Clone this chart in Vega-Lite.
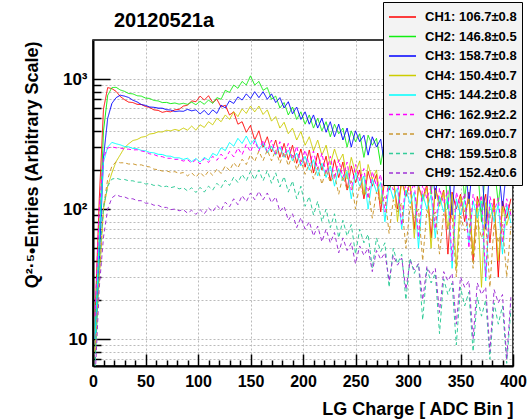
{
  "$schema": "https://vega.github.io/schema/vega-lite/v6.json",
  "autosize": {"type": "none"},
  "padding": {"left": 93, "top": 40, "right": 14, "bottom": 53},
  "width": 420,
  "height": 326,
  "background": "white",
  "view": {"stroke": "#000", "strokeWidth": 1.5},
  "title": {"text": "20120521a", "anchor": "start", "frame": "group", "dx": 21, "offset": -45, "baseline": "alphabetic", "fontSize": 20, "font": "Liberation Sans", "fontWeight": "bold", "color": "#000"},
  "data": {"values": [
    {"x":2,"CH1":15,"CH2":12,"CH3":10,"CH4":8,"CH5":10,"CH6":15,"CH7":8,"CH8":6,"CH9":5},
    {"x":6,"CH1":120,"CH2":60,"CH3":40,"CH4":30,"CH5":60,"CH6":100,"CH7":30,"CH8":40,"CH9":25},
    {"x":10,"CH1":590,"CH2":400,"CH3":250,"CH4":100,"CH5":230,"CH6":250,"CH7":104,"CH8":104,"CH9":61},
    {"x":14,"CH1":860,"CH2":750,"CH3":500,"CH4":150,"CH5":300,"CH6":295,"CH7":170,"CH8":150,"CH9":100},
    {"x":18,"CH1":845,"CH2":860,"CH3":650,"CH4":190,"CH5":326,"CH6":301,"CH7":214,"CH8":170,"CH9":122},
    {"x":22,"CH1":805,"CH2":865,"CH3":720,"CH4":232,"CH5":318,"CH6":296,"CH7":231,"CH8":173,"CH9":129},
    {"x":26,"CH1":735,"CH2":825,"CH3":752,"CH4":262,"CH5":312,"CH6":295,"CH7":227,"CH8":169,"CH9":125},
    {"x":30,"CH1":695,"CH2":805,"CH3":740,"CH4":297,"CH5":303,"CH6":289,"CH7":227,"CH8":169,"CH9":124},
    {"x":34,"CH1":665,"CH2":775,"CH3":722,"CH4":318,"CH5":301,"CH6":289,"CH7":222,"CH8":165,"CH9":120},
    {"x":38,"CH1":660,"CH2":770,"CH3":688,"CH4":337,"CH5":293,"CH6":285,"CH7":223,"CH8":165,"CH9":120},
    {"x":42,"CH1":640,"CH2":745,"CH3":668,"CH4":343,"CH5":291,"CH6":286,"CH7":218,"CH8":161,"CH9":116},
    {"x":46,"CH1":638,"CH2":740,"CH3":638,"CH4":357,"CH5":283,"CH6":280,"CH7":219,"CH8":161,"CH9":116},
    {"x":50,"CH1":615,"CH2":715,"CH3":628,"CH4":362,"CH5":281,"CH6":276,"CH7":213,"CH8":156,"CH9":111},
    {"x":54,"CH1":605,"CH2":710,"CH3":610,"CH4":378,"CH5":273,"CH6":266,"CH7":211,"CH8":157,"CH9":111},
    {"x":58,"CH1":580,"CH2":685,"CH3":607,"CH4":382,"CH5":271,"CH6":263,"CH7":203,"CH8":152,"CH9":107},
    {"x":62,"CH1":575,"CH2":680,"CH3":598,"CH4":393,"CH5":264,"CH6":255,"CH7":201,"CH8":153,"CH9":107},
    {"x":66,"CH1":555,"CH2":660,"CH3":597,"CH4":392,"CH5":263,"CH6":253,"CH7":196,"CH8":148,"CH9":103},
    {"x":70,"CH1":565,"CH2":662,"CH3":582,"CH4":404,"CH5":256,"CH6":246,"CH7":197,"CH8":150,"CH9":103},
    {"x":74,"CH1":560,"CH2":648,"CH3":578,"CH4":400,"CH5":255,"CH6":246,"CH7":192,"CH8":146,"CH9":99},
    {"x":78,"CH1":580,"CH2":655,"CH3":562,"CH4":410,"CH5":248,"CH6":241,"CH7":194,"CH8":149,"CH9":100},
    {"x":82,"CH1":585,"CH2":642,"CH3":568,"CH4":402,"CH5":248,"CH6":242,"CH7":188,"CH8":143,"CH9":97},
    {"x":86,"CH1":620,"CH2":652,"CH3":565,"CH4":420,"CH5":241,"CH6":234,"CH7":191,"CH8":146,"CH9":99},
    {"x":90,"CH1":630,"CH2":640,"CH3":585,"CH4":405,"CH5":246,"CH6":240,"CH7":180,"CH8":138,"CH9":93},
    {"x":94,"CH1":680,"CH2":665,"CH3":570,"CH4":435,"CH5":232,"CH6":226,"CH7":190,"CH8":146,"CH9":98},
    {"x":98,"CH1":670,"CH2":635,"CH3":580,"CH4":405,"CH5":245,"CH6":240,"CH7":176,"CH8":134,"CH9":91},
    {"x":102,"CH1":740,"CH2":675,"CH3":540,"CH4":445,"CH5":230,"CH6":222,"CH7":192,"CH8":147,"CH9":99},
    {"x":106,"CH1":690,"CH2":640,"CH3":575,"CH4":425,"CH5":250,"CH6":245,"CH7":177,"CH8":135,"CH9":92},
    {"x":110,"CH1":745,"CH2":690,"CH3":530,"CH4":470,"CH5":238,"CH6":228,"CH7":196,"CH8":150,"CH9":102},
    {"x":114,"CH1":660,"CH2":650,"CH3":580,"CH4":445,"CH5":268,"CH6":255,"CH7":182,"CH8":140,"CH9":95},
    {"x":118,"CH1":700,"CH2":720,"CH3":545,"CH4":500,"CH5":258,"CH6":237,"CH7":203,"CH8":158,"CH9":107},
    {"x":122,"CH1":610,"CH2":700,"CH3":630,"CH4":470,"CH5":296,"CH6":265,"CH7":188,"CH8":146,"CH9":98},
    {"x":126,"CH1":630,"CH2":820,"CH3":600,"CH4":530,"CH5":282,"CH6":242,"CH7":215,"CH8":167,"CH9":113},
    {"x":130,"CH1":530,"CH2":790,"CH3":680,"CH4":490,"CH5":325,"CH6":278,"CH7":198,"CH8":152,"CH9":104},
    {"x":134,"CH1":560,"CH2":900,"CH3":650,"CH4":560,"CH5":305,"CH6":252,"CH7":228,"CH8":176,"CH9":120},
    {"x":138,"CH1":450,"CH2":850,"CH3":730,"CH4":515,"CH5":350,"CH6":295,"CH7":207,"CH8":160,"CH9":108},
    {"x":142,"CH1":470,"CH2":960,"CH3":690,"CH4":590,"CH5":320,"CH6":262,"CH7":242,"CH8":185,"CH9":127},
    {"x":146,"CH1":390,"CH2":900,"CH3":770,"CH4":545,"CH5":365,"CH6":315,"CH7":220,"CH8":165,"CH9":114},
    {"x":150,"CH1":440,"CH2":1060,"CH3":710,"CH4":620,"CH5":315,"CH6":275,"CH7":262,"CH8":195,"CH9":133},
    {"x":154,"CH1":340,"CH2":900,"CH3":800,"CH4":560,"CH5":345,"CH6":335,"CH7":232,"CH8":168,"CH9":118},
    {"x":158,"CH1":400,"CH2":960,"CH3":720,"CH4":620,"CH5":290,"CH6":280,"CH7":280,"CH8":200,"CH9":137},
    {"x":162,"CH1":300,"CH2":820,"CH3":800,"CH4":535,"CH5":320,"CH6":340,"CH7":236,"CH8":165,"CH9":118},
    {"x":166,"CH1":360,"CH2":860,"CH3":700,"CH4":580,"CH5":270,"CH6":275,"CH7":285,"CH8":198,"CH9":133},
    {"x":170,"CH1":275,"CH2":700,"CH3":770,"CH4":475,"CH5":305,"CH6":340,"CH7":235,"CH8":158,"CH9":112},
    {"x":174,"CH1":340,"CH2":740,"CH3":660,"CH4":515,"CH5":260,"CH6":265,"CH7":285,"CH8":190,"CH9":124},
    {"x":178,"CH1":250,"CH2":600,"CH3":720,"CH4":420,"CH5":300,"CH6":330,"CH7":225,"CH8":148,"CH9":96},
    {"x":182,"CH1":320,"CH2":660,"CH3":600,"CH4":465,"CH5":250,"CH6":255,"CH7":275,"CH8":178,"CH9":105},
    {"x":186,"CH1":240,"CH2":530,"CH3":670,"CH4":380,"CH5":285,"CH6":320,"CH7":215,"CH8":135,"CH9":82},
    {"x":190,"CH1":310,"CH2":610,"CH3":540,"CH4":420,"CH5":235,"CH6":240,"CH7":260,"CH8":165,"CH9":92},
    {"x":194,"CH1":225,"CH2":490,"CH3":610,"CH4":340,"CH5":270,"CH6":305,"CH7":200,"CH8":120,"CH9":72},
    {"x":198,"CH1":290,"CH2":560,"CH3":490,"CH4":395,"CH5":215,"CH6":220,"CH7":240,"CH8":150,"CH9":86},
    {"x":202,"CH1":210,"CH2":450,"CH3":560,"CH4":310,"CH5":255,"CH6":285,"CH7":185,"CH8":105,"CH9":70},
    {"x":206,"CH1":285,"CH2":530,"CH3":450,"CH4":360,"CH5":200,"CH6":215,"CH7":225,"CH8":125,"CH9":80},
    {"x":210,"CH1":190,"CH2":420,"CH3":530,"CH4":280,"CH5":240,"CH6":280,"CH7":170,"CH8":90,"CH9":62},
    {"x":214,"CH1":270,"CH2":500,"CH3":420,"CH4":340,"CH5":180,"CH6":200,"CH7":210,"CH8":115,"CH9":74},
    {"x":218,"CH1":200,"CH2":400,"CH3":500,"CH4":260,"CH5":225,"CH6":270,"CH7":155,"CH8":80,"CH9":56},
    {"x":222,"CH1":255,"CH2":470,"CH3":390,"CH4":310,"CH5":175,"CH6":185,"CH7":200,"CH8":100,"CH9":70},
    {"x":226,"CH1":165,"CH2":360,"CH3":470,"CH4":220,"CH5":215,"CH6":255,"CH7":160,"CH8":72,"CH9":55},
    {"x":230,"CH1":240,"CH2":450,"CH3":360,"CH4":290,"CH5":150,"CH6":170,"CH7":185,"CH8":92,"CH9":66},
    {"x":234,"CH1":175,"CH2":380,"CH3":450,"CH4":230,"CH5":205,"CH6":240,"CH7":130,"CH8":60,"CH9":46},
    {"x":238,"CH1":230,"CH2":420,"CH3":340,"CH4":265,"CH5":165,"CH6":175,"CH7":180,"CH8":82,"CH9":60},
    {"x":242,"CH1":140,"CH2":300,"CH3":420,"CH4":170,"CH5":195,"CH6":230,"CH7":140,"CH8":62,"CH9":48},
    {"x":246,"CH1":215,"CH2":400,"CH3":300,"CH4":250,"CH5":120,"CH6":140,"CH7":165,"CH8":76,"CH9":55},
    {"x":250,"CH1":160,"CH2":330,"CH3":400,"CH4":190,"CH5":190,"CH6":220,"CH7":100,"CH8":45,"CH9":38},
    {"x":254,"CH1":200,"CH2":380,"CH3":330,"CH4":235,"CH5":150,"CH6":165,"CH7":155,"CH8":70,"CH9":52},
    {"x":258,"CH1":120,"CH2":250,"CH3":370,"CH4":130,"CH5":180,"CH6":205,"CH7":125,"CH8":55,"CH9":44},
    {"x":262,"CH1":195,"CH2":370,"CH3":260,"CH4":220,"CH5":100,"CH6":120,"CH7":145,"CH8":64,"CH9":50},
    {"x":266,"CH1":150,"CH2":310,"CH3":360,"CH4":170,"CH5":170,"CH6":195,"CH7":85,"CH8":35,"CH9":33},
    {"x":270,"CH1":185,"CH2":350,"CH3":300,"CH4":200,"CH5":135,"CH6":150,"CH7":135,"CH8":60,"CH9":48},
    {"x":274,"CH1":95,"CH2":220,"CH3":345,"CH4":110,"CH5":160,"CH6":185,"CH7":110,"CH8":47,"CH9":41},
    {"x":278,"CH1":175,"CH2":340,"CH3":210,"CH4":190,"CH5":80,"CH6":95,"CH7":125,"CH8":55,"CH9":46},
    {"x":282,"CH1":140,"CH2":290,"CH3":330,"CH4":150,"CH5":155,"CH6":180,"CH7":65,"CH8":25,"CH9":28},
    {"x":286,"CH1":170,"CH2":330,"CH3":280,"CH4":180,"CH5":120,"CH6":140,"CH7":118,"CH8":50,"CH9":44},
    {"x":290,"CH1":100,"CH2":180,"CH3":320,"CH4":80,"CH5":145,"CH6":170,"CH7":95,"CH8":38,"CH9":37},
    {"x":294,"CH1":165,"CH2":320,"CH3":170,"CH4":170,"CH5":70,"CH6":75,"CH7":112,"CH8":45,"CH9":42},
    {"x":298,"CH1":125,"CH2":260,"CH3":300,"CH4":130,"CH5":140,"CH6":165,"CH7":50,"CH8":20,"CH9":24},
    {"x":302,"CH1":160,"CH2":300,"CH3":260,"CH4":160,"CH5":110,"CH6":130,"CH7":105,"CH8":42,"CH9":40},
    {"x":306,"CH1":70,"CH2":150,"CH3":295,"CH4":60,"CH5":135,"CH6":160,"CH7":85,"CH8":32,"CH9":34},
    {"x":310,"CH1":150,"CH2":290,"CH3":140,"CH4":150,"CH5":50,"CH6":60,"CH7":100,"CH8":38,"CH9":38},
    {"x":314,"CH1":120,"CH2":240,"CH3":285,"CH4":115,"CH5":130,"CH6":155,"CH7":40,"CH8":14,"CH9":20},
    {"x":318,"CH1":155,"CH2":285,"CH3":240,"CH4":145,"CH5":100,"CH6":120,"CH7":98,"CH8":35,"CH9":36},
    {"x":322,"CH1":60,"CH2":130,"CH3":280,"CH4":50,"CH5":128,"CH6":150,"CH7":80,"CH8":27,"CH9":31},
    {"x":326,"CH1":145,"CH2":270,"CH3":120,"CH4":140,"CH5":60,"CH6":70,"CH7":95,"CH8":32,"CH9":35},
    {"x":330,"CH1":110,"CH2":220,"CH3":270,"CH4":105,"CH5":125,"CH6":145,"CH7":45,"CH8":11,"CH9":16},
    {"x":334,"CH1":140,"CH2":265,"CH3":225,"CH4":135,"CH5":95,"CH6":110,"CH7":92,"CH8":29,"CH9":33},
    {"x":338,"CH1":45,"CH2":100,"CH3":260,"CH4":70,"CH5":122,"CH6":140,"CH7":70,"CH8":22,"CH9":28},
    {"x":342,"CH1":135,"CH2":255,"CH3":90,"CH4":130,"CH5":35,"CH6":40,"CH7":90,"CH8":27,"CH9":32},
    {"x":346,"CH1":100,"CH2":200,"CH3":255,"CH4":35,"CH5":120,"CH6":135,"CH7":30,"CH8":9,"CH9":13},
    {"x":350,"CH1":130,"CH2":250,"CH3":210,"CH4":125,"CH5":90,"CH6":105,"CH7":88,"CH8":25,"CH9":30},
    {"x":354,"CH1":80,"CH2":120,"CH3":245,"CH4":95,"CH5":118,"CH6":132,"CH7":68,"CH8":18,"CH9":25},
    {"x":358,"CH1":135,"CH2":240,"CH3":110,"CH4":120,"CH5":55,"CH6":50,"CH7":85,"CH8":23,"CH9":28},
    {"x":362,"CH1":40,"CH2":190,"CH3":240,"CH4":45,"CH5":116,"CH6":130,"CH7":35,"CH8":8,"CH9":10},
    {"x":366,"CH1":125,"CH2":235,"CH3":200,"CH4":115,"CH5":85,"CH6":100,"CH7":82,"CH8":21,"CH9":27},
    {"x":370,"CH1":95,"CH2":80,"CH3":235,"CH4":25,"CH5":115,"CH6":128,"CH7":60,"CH8":15,"CH9":22},
    {"x":374,"CH1":130,"CH2":225,"CH3":70,"CH4":112,"CH5":28,"CH6":30,"CH7":80,"CH8":20,"CH9":25},
    {"x":378,"CH1":55,"CH2":175,"CH3":225,"CH4":85,"CH5":112,"CH6":125,"CH7":25,"CH8":7,"CH9":8},
    {"x":382,"CH1":120,"CH2":220,"CH3":190,"CH4":108,"CH5":80,"CH6":95,"CH7":78,"CH8":19,"CH9":24},
    {"x":386,"CH1":30,"CH2":110,"CH3":220,"CH4":40,"CH5":110,"CH6":122,"CH7":55,"CH8":13,"CH9":19},
    {"x":390,"CH1":115,"CH2":210,"CH3":100,"CH4":105,"CH5":45,"CH6":55,"CH7":76,"CH8":18,"CH9":22},
    {"x":394,"CH1":85,"CH2":160,"CH3":210,"CH4":75,"CH5":108,"CH6":120,"CH7":30,"CH8":6.5,"CH9":7},
    {"x":398,"CH1":120,"CH2":205,"CH3":195,"CH4":100,"CH5":78,"CH6":90,"CH7":74,"CH8":17,"CH9":21}
  ]},
  "transform": [
    {"fold": ["CH1","CH2","CH3","CH4","CH5","CH6","CH7","CH8","CH9"], "as": ["ch","v"]}
  ],
  "mark": {"type": "line", "strokeWidth": 1, "clip": true},
  "encoding": {
    "x": {
      "field": "x", "type": "quantitative",
      "scale": {"domain": [0, 400], "nice": false, "zero": false},
      "axis": {
        "title": "LG Charge [ ADC Bin ]",
        "titleFont": "Liberation Sans", "titleFontSize": 18, "titleFontWeight": "bold", "titleColor": "#000",
        "titleAnchor": "end", "titleAlign": "right", "titleBaseline": "alphabetic", "titleX": 420, "titleY": 48,
        "values": [0,10,20,30,40,50,60,70,80,90,100,110,120,130,140,150,160,170,180,190,200,210,220,230,240,250,260,270,280,290,300,310,320,330,340,350,360,370,380,390,400],
        "labelExpr": "datum.value % 50 === 0 ? datum.value : ''",
        "labelFont": "Liberation Sans", "labelFontSize": 16, "labelFontWeight": "bold", "labelColor": "#000",
        "labelFlush": false, "labelOverlap": false, "labelBound": false, "labelPadding": 19,
        "tickSize": {"condition": {"test": "datum.value % 50 === 0", "value": -12}, "value": -6},
        "tickColor": "#000", "tickWidth": 1.5,
        "domainColor": "#000", "domainWidth": 2,
        "grid": true, "gridDash": [2, 2], "gridColor": "#bbbbbb", "gridWidth": 1,
        "gridOpacity": {"condition": {"test": "datum.value % 50 === 0", "value": 1}, "value": 0}
      }
    },
    "y": {
      "field": "v", "type": "quantitative",
      "scale": {"type": "log", "domain": [6.2, 2000], "nice": false},
      "axis": {
        "title": "Q²·⁵•Entries (Arbitrary Scale)",
        "titleFont": "Liberation Sans", "titleFontSize": 18, "titleFontWeight": "bold", "titleColor": "#000",
        "titleAngle": 270, "titleAlign": "right", "titleBaseline": "middle", "titleX": -61, "titleY": 1,
        "values": [7,8,9,10,20,30,40,50,60,70,80,90,100,200,300,400,500,600,700,800,900,1000],
        "labelExpr": "datum.value == 1000 ? '10³' : datum.value == 100 ? '10²' : datum.value == 10 ? '10' : ''",
        "labelFont": "Liberation Sans", "labelFontSize": 17, "labelFontWeight": "bold", "labelColor": "#000",
        "labelFlush": false, "labelOverlap": false, "labelBound": false, "labelPadding": 23,
        "tickSize": {"condition": {"test": "datum.value == 10 || datum.value == 100 || datum.value == 1000", "value": -17}, "value": -8},
        "tickColor": "#000", "tickWidth": 1.5,
        "domainColor": "#000", "domainWidth": 2,
        "grid": true, "gridDash": [2, 2], "gridColor": "#bbbbbb", "gridWidth": 1
      }
    },
    "color": {
      "field": "ch", "type": "nominal",
      "scale": {"domain": ["CH1","CH2","CH3","CH4","CH5","CH6","CH7","CH8","CH9"],
                "range": ["#ff0000","#11ee11","#0000ff","#cccc00","#00ffff","#ff00ff","#cc9933","#33cc99","#a033d6"]},
      "legend": {
        "title": null, "orient": "none", "legendX": 290, "legendY": -38,
        "fillColor": "#f3f3f3", "strokeColor": "#000", "padding": 5,
        "symbolType": "M-1,0H2", "symbolSize": 324, "symbolStrokeWidth": 1.5,
        "labelFont": "Liberation Sans", "labelFontSize": 13, "labelFontWeight": "bold", "labelColor": "#000",
        "labelOffset": 17, "rowPadding": 2.5, "labelLimit": 300,
        "labelExpr": "datum.value + ': ' + {'CH1':'106.7±0.8','CH2':'146.8±0.5','CH3':'158.7±0.8','CH4':'150.4±0.7','CH5':'144.2±0.8','CH6':'162.9±2.2','CH7':'169.0±0.7','CH8':'159.5±0.8','CH9':'152.4±0.6'}[datum.value] + '\u00a0\u00a0\u00a0\u00a0'"
      }
    },
    "strokeDash": {
      "field": "ch", "type": "nominal",
      "scale": {"domain": ["CH1","CH2","CH3","CH4","CH5","CH6","CH7","CH8","CH9"],
                "range": [[1,0],[1,0],[1,0],[1,0],[1,0],[4,3],[4,3],[4,3],[4,3]]},
      "legend": null
    }
  }
}
